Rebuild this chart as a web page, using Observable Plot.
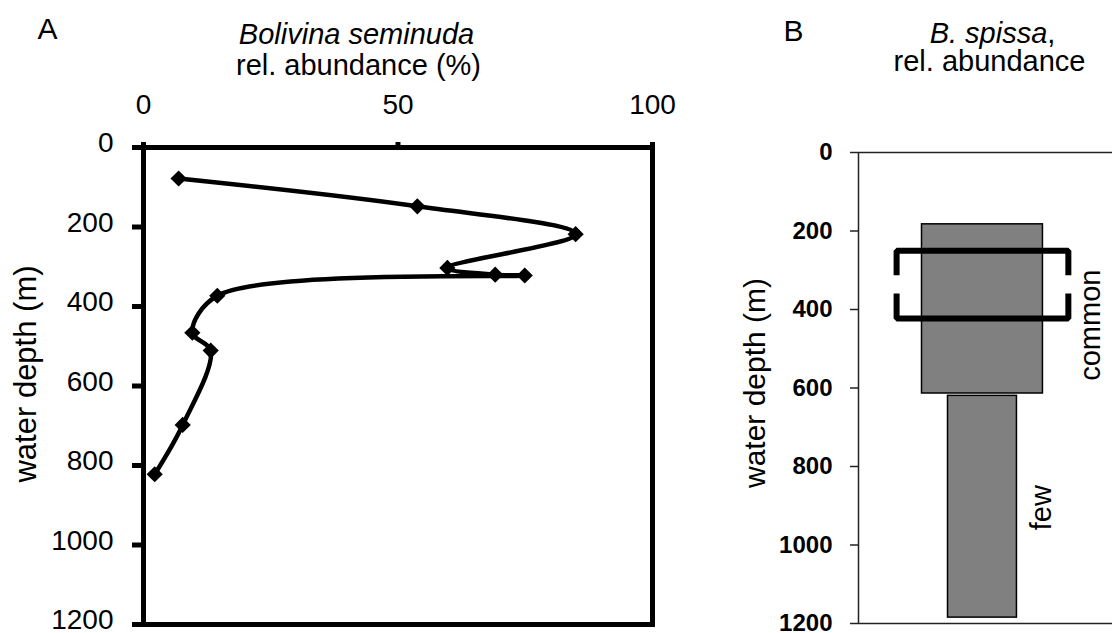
<!DOCTYPE html>
<html>
<head>
<meta charset="utf-8">
<script src="https://cdn.jsdelivr.net/npm/d3@7"></script>
<script src="https://cdn.jsdelivr.net/npm/@observablehq/plot@0.6"></script>
<style>
  html, body { margin: 0; padding: 0; background: #fff; }
  #fig { position: relative; width: 1112px; height: 633px; overflow: hidden; }
  #fig svg { position: absolute; top: 0; overflow: visible; }
</style>
</head>
<body>
<div id="fig"></div>
<script>
// ---- Panel A: Bolivina seminuda relative abundance (%) against water depth (m)
const seminudaPct   = [6.9, 53.8, 84.9, 59.7, 69.1, 74.9, 14.5, 9.6, 13.2, 7.7, 2.2];
const seminudaDepth = [78, 148, 218, 303, 320, 322, 373, 466, 511, 698, 822];
const pctTicks   = [0, 50, 100];
const depthTicks = [0, 200, 400, 600, 800, 1000, 1200];

// ---- Panel B: B. spissa abundance classes over depth ranges
const spissaClass      = ["common", "few"];
const spissaTop        = [183, 620];
const spissaBottom     = [614, 1185];
const spissaWidth      = [2, 1.14];     // relative bar width per class
const spissaLabelDepth = [440, 905];
// bracket around the interval where B. spissa is common
const commonTop = 250, commonBottom = 423, commonGap = [313, 359], bracketWidth = 2.84;

const FONT = "Arial, 'Liberation Sans', sans-serif";
const fig = document.getElementById("fig");
const plain = d => String(d);
const blank = () => "";

const seminuda = seminudaPct.map((p, i) => ({pct: p, depth: seminudaDepth[i]}));

const plotA = Plot.plot({
  width: 700, height: 633,
  marginLeft: 143, marginRight: 48, marginTop: 147, marginBottom: 9,
  style: {fontFamily: FONT, color: "#000", background: "transparent", overflow: "visible"},
  x: {domain: [0, 100]},
  y: {domain: [0, 1200], reverse: true},
  marks: [
    Plot.axisX(pctTicks, {anchor: "top", tickSize: 6, tickPadding: 28, fontSize: 28, strokeWidth: 5, tickFormat: plain, label: null}),
    // depth ticks, then their labels nudged up a little
    Plot.axisY(depthTicks, {anchor: "left", tickSize: 11, strokeWidth: 5, tickFormat: blank, label: null}),
    Plot.axisY(depthTicks, {anchor: "left", tickSize: 0, tickPadding: 30, dy: -4, fontSize: 28, tickFormat: plain, label: null}),
    Plot.frame({stroke: "#000", strokeWidth: 5}),
    Plot.line(seminuda, {x: "pct", y: "depth", curve: "catmull-rom", stroke: "#000", strokeWidth: 4.5}),
    Plot.dot(seminuda, {x: "pct", y: "depth", symbol: "diamond2", r: 7.3, fill: "#000", stroke: null}),
    Plot.text(["water depth (m)"], {frameAnchor: "left", rotate: -90, dx: -117, dy: -12, fontSize: 31, textAnchor: "middle", lineAnchor: "middle"}),
    Plot.text(["A"], {frameAnchor: "top-left", dx: 47 - 143, dy: 29 - 147, fontSize: 30, textAnchor: "middle", lineAnchor: "middle"}),
    Plot.text(["Bolivina seminuda"], {frameAnchor: "top-left", dx: 356 - 143, dy: 34 - 147, fontSize: 29, fontStyle: "italic", textAnchor: "middle", lineAnchor: "middle"}),
    Plot.text(["rel. abundance (%)"], {frameAnchor: "top-left", dx: 358 - 143, dy: 65 - 147, fontSize: 29, textAnchor: "middle", lineAnchor: "middle"})
  ]
});
plotA.style.left = "0px";
fig.appendChild(plotA);

const spissa = spissaClass.map((c, i) => ({
  cls: c, top: spissaTop[i], bottom: spissaBottom[i], width: spissaWidth[i], labelDepth: spissaLabelDepth[i]
}));
const hb = bracketWidth / 2;
const bracket = [
  {x: -hb, y: commonGap[0], part: "upper"}, {x: -hb, y: commonTop, part: "upper"},
  {x: hb, y: commonTop, part: "upper"}, {x: hb, y: commonGap[0], part: "upper"},
  {x: -hb, y: commonGap[1], part: "lower"}, {x: -hb, y: commonBottom, part: "lower"},
  {x: hb, y: commonBottom, part: "lower"}, {x: hb, y: commonGap[1], part: "lower"}
];
const xDomainB = [-2.05, 2.15];

const plotB = Plot.plot({
  width: 412, height: 633,
  marginLeft: 158, marginRight: 0, marginTop: 152, marginBottom: 10,
  style: {fontFamily: FONT, color: "#000", background: "transparent", overflow: "visible"},
  x: {domain: xDomainB, axis: null},
  y: {domain: [0, 1200], reverse: true},
  marks: [
    Plot.ruleY([0, 1200], {stroke: "#222", strokeWidth: 1.5}),
    Plot.ruleX([xDomainB[0]], {stroke: "#222", strokeWidth: 1.5}),
    Plot.axisY(depthTicks, {anchor: "left", tickSize: 8, tickPadding: 18, fontSize: 24, fontWeight: "bold", stroke: "#222", strokeWidth: 1.5, tickFormat: plain, label: null}),
    Plot.rect(spissa, {x1: d => -d.width / 2, x2: d => d.width / 2, y1: "top", y2: "bottom", fill: "#808080", stroke: "#000", strokeWidth: 1.5}),
    Plot.line(bracket, {x: "x", y: "y", z: "part", stroke: "#000", strokeWidth: 6, strokeLinejoin: "miter", strokeLinecap: "butt"}),
    // class labels just outside the bracket (common) and the bar edge (few)
    Plot.text(spissa, {filter: d => d.cls === "common", x: () => hb, y: "labelDepth", text: "cls",
      dx: 22, rotate: -90, fontSize: 29, textAnchor: "middle", lineAnchor: "middle"}),
    Plot.text(spissa, {filter: d => d.cls === "few", x: d => d.width / 2, y: "labelDepth", text: "cls",
      dx: 25, rotate: -90, fontSize: 29, textAnchor: "middle", lineAnchor: "middle"}),
    Plot.text(["water depth (m)"], {frameAnchor: "left", rotate: -90, dx: -103, dy: -5, fontSize: 30, textAnchor: "middle", lineAnchor: "middle"}),
    Plot.text(["B"], {frameAnchor: "top-left", dx: 93 - 158, dy: 31 - 152, fontSize: 30, textAnchor: "middle", lineAnchor: "middle"}),
    Plot.text(["B. spissa,"], {frameAnchor: "top-left", dx: 992 - 700 - 158, dy: 33 - 152, fontSize: 29, textAnchor: "middle", lineAnchor: "middle"}),
    Plot.text(["rel. abundance"], {frameAnchor: "top-left", dx: 289 - 158, dy: 61 - 152, fontSize: 29, textAnchor: "middle", lineAnchor: "middle"})
  ]
});
plotB.style.left = "700px";
fig.appendChild(plotB);

// species name in italics, trailing comma upright
d3.select(plotB).selectAll("text")
  .filter(function () { return this.textContent === "B. spissa,"; })
  .each(function () {
    const t = d3.select(this);
    t.text(null);
    t.append("tspan").attr("font-style", "italic").text("B. spissa");
    t.append("tspan").text(",");
  });
</script>
</body>
</html>
